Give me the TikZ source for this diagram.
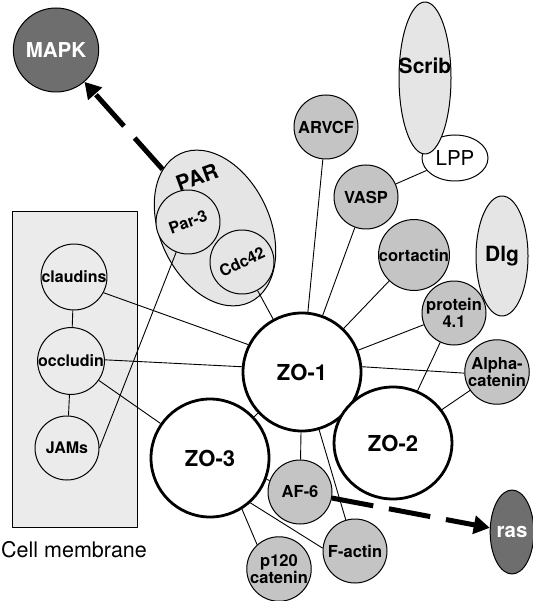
\documentclass[tikz,border=0pt]{standalone}
\usepackage{fontspec}
\setmainfont{TeX Gyre Heros}
\usetikzlibrary{shapes.geometric,arrows.meta}
\begin{document}
\begin{tikzpicture}[x=1pt,y=-1pt,line join=round,
    prot/.style={circle,draw,line width=1pt,fill=black!23,minimum size=64pt,inner sep=0pt,align=center,font=\fontsize{16.5}{17}\selectfont\bfseries},
    memb/.style={circle,draw,line width=1pt,minimum size=64pt,inner sep=0pt,font=\fontsize{16}{17}\selectfont\bfseries},
    zo/.style={circle,draw,line width=2.8pt,fill=white,minimum size=118pt,inner sep=0pt,font=\fontsize{22}{23}\selectfont\bfseries},
    cplx/.style={ellipse,draw,line width=1pt,fill=black!10,inner sep=0pt},
    big/.style={font=\fontsize{21}{22}\selectfont\bfseries},
    kinase/.style={ellipse,draw,line width=1pt,fill=black!57,text=white,inner sep=0pt,font=\fontsize{20.5}{21}\selectfont\bfseries},
    link/.style={line width=0.9pt},
    signal/.style={line width=5pt,dash pattern=on 42pt off 16pt,-{Triangle[length=16pt,width=18pt]}}]
                \useasboundingbox (0,0) rectangle (532,601);
                \node[draw,line width=1pt,fill=black!8,minimum width=125pt,minimum height=315pt] (membrane) at (74.5,369.5) {};
                \node[font=\fontsize{21.5}{22}\selectfont,anchor=west,inner sep=0pt] (membranetext) at (1,550) {Cell membrane};
                \node[memb] (claudins) at (74,277) {claudins};
                \node[memb] (occludin) at (71,361) {occludin};
                \node[memb] (JAMs) at (67,448) {JAMs};
                \node[cplx,minimum width=110pt,minimum height=164pt,rotate=25] (PAR) at (215,228) {};
                \node[big,rotate=20] (PARtext) at (197,177) {PAR};
                \node[memb,fill=black!10,rotate=20] (Par3) at (188,222) {Par-3};
                \node[memb,fill=black!10,rotate=25] (Cdc42) at (242,262) {Cdc42};
                \node[kinase,minimum width=74pt,minimum height=84pt] (MAPK) at (56,50) {MAPK};
                \node[ellipse,draw,line width=1pt,fill=white,minimum width=66pt,minimum height=46pt,inner sep=0pt,font=\fontsize{20.5}{21}\selectfont] (LPP) at (455,158) {LPP};
                \node[cplx,minimum width=52pt,minimum height=152pt] (Scrib) at (425,78) {};
                \node[big] (Scribtext) at (425,66) {Scrib};
                \node[cplx,minimum width=52pt,minimum height=120pt,big] (Dlg) at (502,256) {Dlg};
                \node[prot] (ARVCF) at (326,127) {ARVCF};
                \node[prot] (VASP) at (366,197) {VASP};
                \node[prot] (cortactin) at (414,255) {cortactin};
                \node[prot] (protein41) at (454,313) {protein\\4.1};
                \node[prot] (alpha) at (497,372) {Alpha-\\catenin};
                \node[zo] (ZO1) at (302,372) {ZO-1};
                \node[zo] (ZO3) at (210,458) {ZO-3};
                \node[zo,ellipse,minimum width=118pt,minimum height=112pt] (ZO2) at (393,443) {ZO-2};
                \node[prot] (AF6) at (300,492) {AF-6};
                \node[prot] (Factin) at (355,551) {F-actin};
                \node[prot] (p120) at (279,569) {p120\\catenin};
                \node[kinase,minimum width=40pt,minimum height=84pt] (ras) at (512,532) {ras};
                \draw[link] (claudins) -- (occludin);
                \draw[link] (occludin) -- (JAMs);
                \draw[link] (claudins.-28) -- (ZO1.153);
                \draw[link] (occludin.2) -- (ZO1.175);
                \draw[link] (occludin) -- (ZO3);
                \draw[link] (JAMs.east) -- (Par3);
                \draw[link] (Cdc42) -- (ZO1);
                \draw[link] (LPP) -- (VASP);
                \draw[link] (ARVCF) -- (ZO1);
                \draw[link] (VASP) -- (ZO1);
                \draw[link] (cortactin) -- (ZO1);
                \draw[link] (protein41) -- (ZO1);
                \draw[link] (protein41) -- (ZO2);
                \draw[link] (alpha.182) -- (ZO1.5);
                \draw[link] (alpha) -- (ZO2);
                \draw[link] (ZO1) -- (ZO3);
                \draw[link] (ZO1) -- (AF6);
                \draw[link] (ZO1) -- (Factin);
                \draw[link] (ZO3) -- (AF6);
                \draw[link] (ZO3.-48) -- (Factin.175);
                \draw[link] (ZO3.-58) -- (p120.132);
                \draw[signal] (PAR) -- (MAPK);
                \draw[signal] (AF6) -- (ras);
              \end{tikzpicture}
\end{document}
